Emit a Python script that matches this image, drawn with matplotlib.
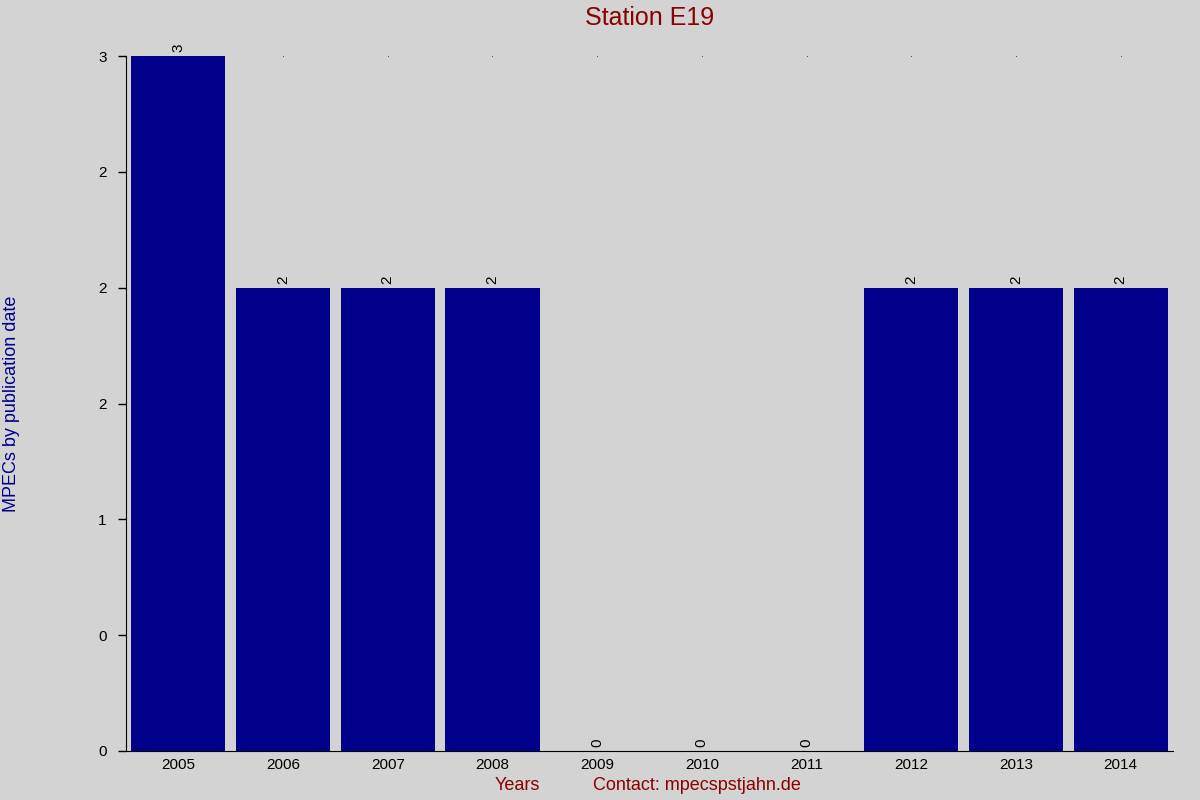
import matplotlib
matplotlib.use("Agg")
import matplotlib.pyplot as plt
from matplotlib.ticker import FormatStrFormatter, MultipleLocator
import numpy as np

years = ["2005", "2006", "2007", "2008", "2009", "2010", "2011", "2012", "2013", "2014"]
counts = [3, 2, 2, 2, 0, 0, 0, 2, 2, 2]

plt.rcParams['font.family'] = ['Liberation Sans', 'DejaVu Sans']

bg = "#d3d3d3"
fig = plt.figure(figsize=(12, 8), dpi=100, facecolor=bg)
ax = fig.add_axes([0.105, 0.06125, 0.8725, 0.86875])
ax.set_facecolor(bg)

x = np.arange(len(years))
ax.bar(x, counts, width=0.9, color="#00008b", zorder=3)
ymax = max(counts)
ax.scatter(x, [ymax] * len(x), s=0.25, color="black", zorder=2, clip_on=False, linewidths=0)

for xi, v in zip(x, counts):
    ax.annotate(str(v), (xi, v), xytext=(0, 3), textcoords="offset points",
                rotation=90, ha="center", va="bottom", fontsize=11, color="black",
                annotation_clip=False)

ax.set_xlim(-0.5, len(years) - 0.5)
ax.set_ylim(0, ymax)
ax.yaxis.set_major_locator(MultipleLocator(0.5))
ax.yaxis.set_major_formatter(FormatStrFormatter('%.0f'))
ax.set_xticks(x)
ax.set_xticklabels(years)
ax.tick_params(axis='x', length=0, pad=5, labelsize=11)
ax.tick_params(axis='y', length=6, width=1, pad=8, labelsize=11, direction='out')

for s in ["top", "right"]:
    ax.spines[s].set_visible(False)
ax.spines["left"].set_color("black")
ax.spines["bottom"].set_color("black")

fig.text(0.5413, 0.9775, "Station E19", ha="center", va="center", fontsize=18, color="#8b0000")
fig.text(0.0095, 0.4956, "MPECs by publication date", rotation=90, ha="center", va="center",
         fontsize=13, color="#00008b")
fig.text(517 / 1200, 1 - 786 / 800, "Years", ha="center", va="center", fontsize=13, color="#8b0000")
fig.text(697 / 1200, 1 - 786 / 800, "Contact: mpecspstjahn.de", ha="center", va="center",
         fontsize=13, color="#8b0000")

fig.savefig("out.png", dpi=100, facecolor=bg)
